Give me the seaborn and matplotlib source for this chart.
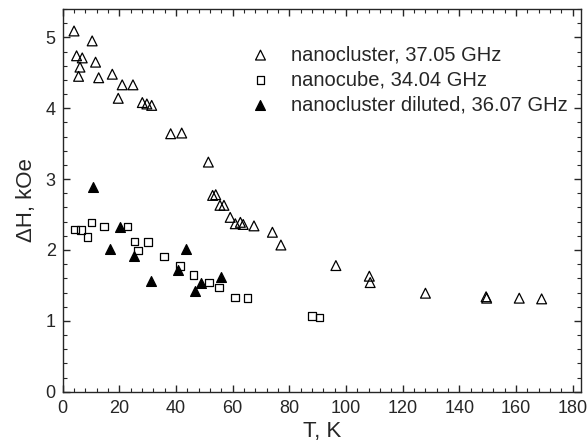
import pandas as pd
import matplotlib
matplotlib.use('Agg')
import matplotlib.pyplot as plt
import seaborn as sns
from matplotlib.ticker import MultipleLocator

# ============================ DADOS ============================

cluster_T = [4.0, 10.4, 4.9, 6.9, 6.1, 5.6, 11.6, 12.7, 17.5, 21.0, 24.8, 19.6,
             28.1, 29.7, 31.4, 38.1, 42.0, 51.4, 52.9, 54.0, 55.5, 56.9, 59.1,
             60.9, 62.7, 63.7, 67.5, 74.0, 77.0, 96.4, 108.2, 108.5, 128.0,
             149.4, 149.6, 161.1, 169.0]
cluster_H = [5.09, 4.95, 4.74, 4.71, 4.58, 4.45, 4.65, 4.43, 4.48, 4.33, 4.33, 4.14,
             4.08, 4.06, 4.04, 3.64, 3.65, 3.24, 2.77, 2.78, 2.63, 2.63, 2.46,
             2.37, 2.39, 2.36, 2.34, 2.25, 2.07, 1.78, 1.63, 1.54, 1.39,
             1.34, 1.32, 1.32, 1.31]

cube_T = [4.3, 6.4, 8.8, 10.1, 14.6, 22.8, 25.3, 26.5, 30.0, 35.7, 41.3, 46.2,
          51.6, 55.1, 60.7, 65.2, 87.9, 90.6]
cube_H = [2.29, 2.28, 2.18, 2.39, 2.33, 2.33, 2.12, 1.99, 2.11, 1.91, 1.77, 1.65,
          1.54, 1.47, 1.33, 1.32, 1.07, 1.05]

diluted_T = [10.8, 20.3, 16.8, 25.3, 31.2, 43.5, 40.8, 48.8, 46.8, 55.8]
diluted_H = [2.89, 2.32, 2.02, 1.92, 1.56, 2.02, 1.72, 1.53, 1.42, 1.62]

labels = ['nanocluster, 37.05 GHz', 'nanocube, 34.04 GHz', 'nanocluster diluted, 36.07 GHz']

# ============================ ESTILO ============================

sns.set_style('ticks')
plt.rcParams['font.family'] = ['Liberation Sans', 'DejaVu Sans']
plt.rcParams.update({
    'xtick.direction': 'in',
    'ytick.direction': 'in',
    'xtick.top': True,
    'ytick.right': True,
    'axes.linewidth': 1.0,
})

fig = plt.figure(figsize=(5.87, 4.46), dpi=100)
ax = fig.add_axes([0.1068, 0.1217, 0.8835, 0.8581])

df_cluster = pd.DataFrame({'T': cluster_T, 'H': cluster_H})
df_cube = pd.DataFrame({'T': cube_T, 'H': cube_H})
df_dil = pd.DataFrame({'T': diluted_T, 'H': diluted_H})

sns.scatterplot(data=df_cluster, x='T', y='H', ax=ax, marker='^', s=50,
                facecolor='none', edgecolor='black', linewidth=0.9, label=labels[0])
sns.scatterplot(data=df_cube, x='T', y='H', ax=ax, marker='s', s=30,
                facecolor='none', edgecolor='black', linewidth=0.9, label=labels[1])
sns.scatterplot(data=df_dil, x='T', y='H', ax=ax, marker='^', s=50,
                facecolor='black', edgecolor='black', linewidth=0.9, label=labels[2])

ax.set_xlim(0, 183)
ax.set_ylim(0, 5.4)
ax.xaxis.set_major_locator(MultipleLocator(20))
ax.xaxis.set_minor_locator(MultipleLocator(4))
ax.yaxis.set_major_locator(MultipleLocator(1))
ax.yaxis.set_minor_locator(MultipleLocator(0.2))
ax.tick_params(which='major', length=5, width=1, labelsize=13)
ax.tick_params(axis='x', which='major', pad=6)
ax.tick_params(axis='y', which='major', pad=5)
ax.tick_params(which='minor', length=3, width=0.8)
for s in ax.spines.values():
    s.set_visible(True)

ax.set_xlabel('T, K', fontsize=16, labelpad=3)
ax.set_ylabel('ΔH, kOe', fontsize=16, labelpad=6)

ax.legend(loc='upper left', bbox_to_anchor=(0.327, 0.926), frameon=False,
          fontsize=14.5, handletextpad=0.5, labelspacing=0.3, borderaxespad=0)

fig.savefig('out.png', dpi=100)
